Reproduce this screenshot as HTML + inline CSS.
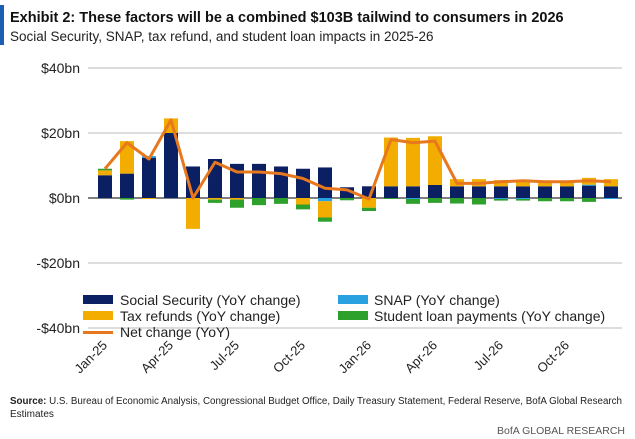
<!DOCTYPE html>
<html><head><meta charset="utf-8">
<style>
body{margin:0;background:#fff;width:635px;height:439px;overflow:hidden;font-family:"Liberation Sans",sans-serif;}
svg{display:block}
</style></head>
<body>
<svg width="635" height="439" viewBox="0 0 635 439">
<rect x="0" y="5" width="4" height="40" fill="#1a5fb4"/>
<text x="10" y="22" font-size="14.5" font-weight="bold" fill="#111">Exhibit 2: These factors will be a combined $103B tailwind to consumers in 2026</text>
<text x="10" y="41" font-size="13.5" fill="#222">Social Security, SNAP, tax refund, and student loan impacts in 2025-26</text>
<g id="grid"></g>
<g id="bars"></g>
<g id="line"></g>
<g id="xlabels"></g>
<g id="legend" font-size="14" fill="#222">
<rect x="83" y="295" width="30" height="9" fill="#0b1f63"/>
<text x="120" y="305">Social Security (YoY change)</text>
<rect x="83" y="311" width="30" height="9" fill="#f2ad00"/>
<text x="120" y="321">Tax refunds (YoY change)</text>
<rect x="83" y="331" width="30" height="3" fill="#e8781e"/>
<text x="120" y="337">Net change (YoY)</text>
<rect x="338" y="295" width="30" height="9" fill="#29a0e0"/>
<text x="374" y="305">SNAP (YoY change)</text>
<rect x="338" y="311" width="30" height="9" fill="#2ea02c"/>
<text x="374" y="321">Student loan payments (YoY change)</text>
</g>
<text x="10" y="404" font-size="10" fill="#222" textLength="612" lengthAdjust="spacingAndGlyphs"><tspan font-weight="bold">Source:</tspan> U.S. Bureau of Economic Analysis, Congressional Budget Office, Daily Treasury Statement, Federal Reserve, BofA Global Research</text>
<text x="10" y="417" font-size="10" fill="#222">Estimates</text>
<text x="625" y="434" font-size="10.5" fill="#555" text-anchor="end">BofA GLOBAL RESEARCH</text>
</svg>
<script>
const months=["Jan-25","Feb-25","Mar-25","Apr-25","May-25","Jun-25","Jul-25","Aug-25","Sep-25","Oct-25","Nov-25","Dec-25","Jan-26","Feb-26","Mar-26","Apr-26","May-26","Jun-26","Jul-26","Aug-26","Sep-26","Oct-26","Nov-26","Dec-26"];
const socialSecurity=[7,7.5,12.4,20,9.7,12,10.5,10.5,9.7,9,9.4,3.3,3.6,3.6,3.6,4,3.6,3.6,3.6,3.6,3.6,3.6,3.8,3.6];
const snap=[0,0,0.5,0,0,0,0,0,0,0,-1,0,0,0,-0.3,0,0,0,-0.3,-0.3,0,0,0.3,-0.3];
const taxRefunds=[1.5,10,-0.3,4.5,-9.5,-0.5,-0.5,0,0,-2,-5,0,-3,15,14.9,15,2.2,2.2,1.9,1.9,1.7,1.7,2.1,2.2];
const studentLoans=[0.5,-0.5,0,0,0,-1,-2.5,-2.2,-1.8,-1.5,-1.3,-0.7,-1,-0.3,-1.5,-1.5,-1.7,-2,-0.5,-0.5,-1,-1,-1.2,0];
const netChange=[9,17,12,24,0,11,8,8,7.5,6,3,2.5,-0.3,18,17,17.5,4.5,4.5,5,5.3,5,5,5.3,5];
const yTicks=[40,20,0,-20,-40];
const xTickLabels=["Jan-25","Apr-25","Jul-25","Oct-25","Jan-26","Apr-26","Jul-26","Oct-26"];
const NS="http://www.w3.org/2000/svg";
const y=v=>198-v*3.25;
const x=i=>105+i*22;
const bw=14;
function mk(tag,attrs,parent){const e=document.createElementNS(NS,tag);for(const k in attrs)e.setAttribute(k,attrs[k]);parent.appendChild(e);return e;}
const grid=document.getElementById('grid');
yTicks.forEach(t=>{
  const l=mk('line',{x1:88,x2:622,y1:y(t),y2:y(t),stroke:t===0?'#333':'#bbb','stroke-width':t===0?1.2:1},grid);
  
  
  const tx=mk('text',{x:80,y:y(t)+5,'text-anchor':'end','font-size':14,fill:'#222'},grid);
  tx.textContent=(t<0?'-$'+(-t):'$'+t)+'bn';
  
  
});
const bars=document.getElementById('bars');
const series=[[socialSecurity,'#0b1f63','social-security'],[snap,'#29a0e0','snap'],[taxRefunds,'#f2ad00','tax-refunds'],[studentLoans,'#2ea02c','student-loans']];
months.forEach((m,i)=>{
  let pos=0,neg=0;
  series.forEach(([arr,col,nm])=>{
    const v=arr[i]; if(!v)return;
    let a,b;
    if(v>0){a=pos;b=pos+v;pos=b;}else{a=neg;b=neg+v;neg=b;}
    const r=mk('rect',{x:x(i)-bw/2,y:Math.min(y(a),y(b)),width:bw,height:Math.abs(y(a)-y(b)),fill:col},bars);
    
    
  });
});
const lg=document.getElementById('line');
const p=mk('polyline',{points:netChange.map((v,i)=>x(i)+','+y(v)).join(' '),fill:'none',stroke:'#e8781e','stroke-width':3,'stroke-linejoin':'round'},lg);


const xl=document.getElementById('xlabels');
xTickLabels.forEach(lbl=>{
  const i=months.indexOf(lbl);
  const t=mk('text',{x:x(i)+3,y:346,'text-anchor':'end','font-size':13,fill:'#222',transform:`rotate(-45 ${x(i)+3} 346)`},xl);
  t.textContent=lbl;
  
  
});
</script>
</body></html>
